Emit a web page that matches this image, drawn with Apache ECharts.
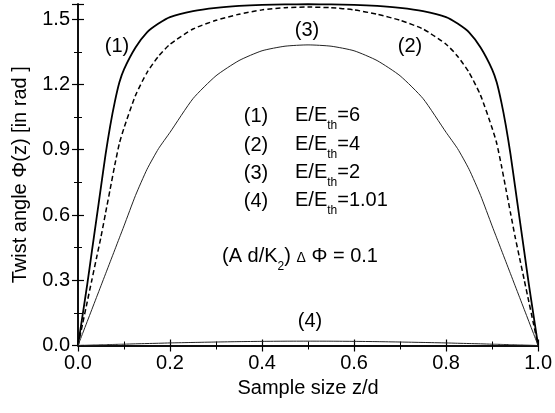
<!DOCTYPE html>
<html>
<head>
<meta charset="utf-8">
<script src="https://cdn.jsdelivr.net/npm/echarts@6/dist/echarts.min.js"></script>
<style>
  html, body { margin: 0; padding: 0; background: #fff; }
  #chart { width: 555px; height: 413px; }
</style>
</head>
<body>
<div id="chart"></div>
<script>
// sample positions z/d
var zPos = [0, 0.01, 0.02, 0.03, 0.04, 0.05, 0.06, 0.07, 0.08, 0.09, 0.1, 0.125, 0.15, 0.175, 0.2,
    0.25, 0.3, 0.35, 0.4, 0.45, 0.5, 0.55, 0.6, 0.65, 0.7, 0.75,
    0.8, 0.825, 0.85, 0.875, 0.9, 0.91, 0.92, 0.93, 0.94, 0.95, 0.96, 0.97, 0.98, 0.99, 1.0]

// (1) E/Eth=6
var phi1 = [0, 0.14, 0.28, 0.43, 0.58, 0.73, 0.88, 1.01, 1.12, 1.21, 1.27, 1.37, 1.44, 1.48, 1.51,
    1.537, 1.552, 1.561, 1.566, 1.568, 1.569, 1.568, 1.566, 1.561, 1.552, 1.537,
    1.51, 1.48, 1.44, 1.37, 1.27, 1.21, 1.12, 1.01, 0.88, 0.73, 0.58, 0.43, 0.28, 0.14, 0]

// (2) E/Eth=4
var phi2 = [0, 0.1, 0.2, 0.3, 0.4, 0.5, 0.61, 0.72, 0.83, 0.93, 1.0, 1.15, 1.255, 1.33, 1.385,
    1.455, 1.495, 1.523, 1.543, 1.553, 1.556, 1.553, 1.543, 1.523, 1.495, 1.455,
    1.385, 1.33, 1.255, 1.15, 1.0, 0.93, 0.83, 0.72, 0.61, 0.5, 0.4, 0.3, 0.2, 0.1, 0]

// (3) E/Eth=2
var phi3 = [0, 0.055, 0.11, 0.165, 0.22, 0.275, 0.33, 0.385, 0.44, 0.495, 0.55, 0.69, 0.81, 0.905, 0.98,
    1.135, 1.24, 1.31, 1.355, 1.376, 1.382, 1.376, 1.355, 1.31, 1.24, 1.135,
    0.98, 0.905, 0.81, 0.69, 0.55, 0.495, 0.44, 0.385, 0.33, 0.275, 0.22, 0.165, 0.11, 0.055, 0]

// (4) E/Eth=1.01
var phi4 = [0, 0.0006, 0.0013, 0.002, 0.0025, 0.003, 0.0037, 0.0044, 0.005, 0.0056, 0.006, 0.0077, 0.009, 0.0103, 0.0118,
    0.014, 0.016, 0.0178, 0.019, 0.0198, 0.02, 0.0198, 0.019, 0.0178, 0.016, 0.014,
    0.0118, 0.0103, 0.009, 0.0077, 0.006, 0.0056, 0.005, 0.0044, 0.0037, 0.003, 0.0025, 0.002, 0.0013, 0.0006, 0]

var curveTags = ['(1)', '(2)', '(3)', '(4)']
var fieldRatios = ['6', '4', '2', '1.01']

function pairs(ys) {
    var out = []
    for (var i = 0; i < zPos.length; i++) out.push([zPos[i], ys[i]])
    return out
}

var FONT = 'Liberation Sans, Arial, sans-serif'

function axisBase(extra) {
    var a = {
        type: 'value',
        axisLine: { show: true, lineStyle: { color: '#000', width: 1.5 } },
        axisTick: { show: true, inside: true, length: 6, lineStyle: { color: '#000', width: 1.2 } },
        minorTick: { show: true, splitNumber: 2, length: 4, lineStyle: { color: '#000', width: 1 } },
        splitLine: { show: false },
        axisLabel: { color: '#000', fontSize: 20, fontFamily: FONT }
    }
    for (var k in extra) a[k] = extra[k]
    return a
}

var myChart = echarts.init(document.getElementById('chart'), null, { renderer: 'canvas' })

var legendGraphics = []
var rowY = [116, 145, 173, 201]
for (var i = 0; i < 4; i++) {
    legendGraphics.push({
        type: 'text', x: 256, y: rowY[i],
        style: { text: curveTags[i], font: '20px ' + FONT, fill: '#000', align: 'center', verticalAlign: 'middle' }
    })
    legendGraphics.push({
        type: 'text', x: 295, y: rowY[i] - 14,
        style: {
            text: '{a|E/E}{s|th}{a|=' + fieldRatios[i] + '}',
            fill: '#000',
            rich: {
                a: { fontSize: 20, fontFamily: FONT, lineHeight: 30, verticalAlign: 'top', padding: [3, 0, 0, 0] },
                s: { fontSize: 12, fontFamily: FONT, lineHeight: 30, verticalAlign: 'bottom' }
            }
        }
    })
}

function curve(ys, style) {
    return { type: 'line', data: pairs(ys), showSymbol: false, smooth: 0.2, lineStyle: style }
}

myChart.setOption({
    backgroundColor: '#fff',
    animation: false,
    grid: { left: 78, right: 15, top: 4, bottom: 67.5 },
    xAxis: [
        axisBase({
            min: 0, max: 1, interval: 0.2, position: 'bottom',
            name: 'Sample size z/d', nameLocation: 'middle', nameGap: 32,
            nameTextStyle: { color: '#000', fontSize: 20, fontFamily: FONT },
            axisLabel: { color: '#000', fontSize: 20, fontFamily: FONT, margin: 8,
                formatter: function (v) { return v.toFixed(1) } }
        }),
        axisBase({
            min: 0, max: 1, interval: 0.2, position: 'top',
            axisLabel: { show: false }
        })
    ],
    yAxis: [
        axisBase({
            min: 0, max: 1.57, interval: 0.3, position: 'left',
            name: 'Twist angle \u03A6(z) [in rad ]', nameLocation: 'middle', nameGap: 48,
            nameTextStyle: { color: '#000', fontSize: 20, fontFamily: FONT },
            axisLabel: { color: '#000', fontSize: 20, fontFamily: FONT, margin: 8, showMaxLabel: false,
                formatter: function (v) { return v.toFixed(1) } }
        }),
        axisBase({
            min: 0, max: 1.57, interval: 0.3, position: 'right',
            axisLabel: { show: false }
        })
    ],
    series: [
        curve(phi1, { color: '#000', width: 1.8 }),
        curve(phi2, { color: '#000', width: 1.5, type: [5, 3] }),
        curve(phi3, { color: '#222', width: 1 }),
        curve(phi4, { color: '#222', width: 1 })
    ],
    graphic: legendGraphics.concat([
        { type: 'text', x: 117, y: 46,
          style: { text: '(1)', font: '20px ' + FONT, fill: '#000', align: 'center', verticalAlign: 'middle' } },
        { type: 'text', x: 410, y: 46,
          style: { text: '(2)', font: '20px ' + FONT, fill: '#000', align: 'center', verticalAlign: 'middle' } },
        { type: 'text', x: 307, y: 30,
          style: { text: '(3)', font: '20px ' + FONT, fill: '#000', align: 'center', verticalAlign: 'middle' } },
        { type: 'text', x: 310, y: 321,
          style: { text: '(4)', font: '20px ' + FONT, fill: '#000', align: 'center', verticalAlign: 'middle' } },
        { type: 'text', x: 222, y: 243,
          style: {
            text: '{a|(A d/K}{s|2}{a|) }{d|\u0394}{a| \u03A6 = 0.1}',
            fill: '#000',
            rich: {
                a: { fontSize: 20, fontFamily: FONT, lineHeight: 30, verticalAlign: 'top', padding: [3, 0, 0, 0] },
                s: { fontSize: 12, fontFamily: FONT, lineHeight: 30, verticalAlign: 'bottom' },
                d: { fontSize: 14, fontFamily: FONT, lineHeight: 30, verticalAlign: 'top', padding: [8, 0, 0, 0] }
            }
          } }
    ])
})
</script>
</body>
</html>
